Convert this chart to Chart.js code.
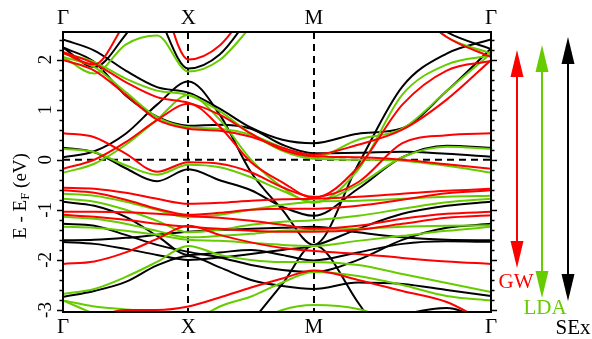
<!DOCTYPE html>
<html><head><meta charset="utf-8">
<script src="https://cdn.jsdelivr.net/npm/chart.js@4/dist/chart.umd.min.js"></script>
<style>html,body{margin:0;padding:0;background:#fff}canvas{display:block}</style>
</head><body>
<canvas id="c" width="592" height="339"></canvas>
<script>
// k-path: Γ-X (1), X-M (1), M-Γ (√2)
const R2 = Math.SQRT2;
const kPoints = [0,0.25,0.5,0.75,1,1.25,1.5,1.75,2,2+R2*0.25,2+R2*0.5,2+R2*0.75,2+R2];
const kTickPos = [0,1,2,2+R2];
const kTickLabels = ['Γ','X','M','Γ'];
const yTickValues = [-3,-2,-1,0,1,2];
const series = ['GW','LDA','SEx'];

// SEx (black) bands
const sex1 = [2.40,2.18,1.78,1.45,1.34,1.02,0.64,0.40,0.33,0.52,0.63,1.37,2.22];
const sex2 = [2.24,1.95,1.28,0.86,0.68,0.70,0.62,0.30,0.13,0.14,0.16,0.12,0.06];
const sex3 = [0.05,0.17,0.52,1.10,1.56,0.90,-0.25,-1.00,-1.70,-0.10,1.46,2.12,2.40];
const sex4 = [0.24,0.15,-0.17,-0.43,-0.19,-0.41,-0.61,-0.94,-1.12,-0.58,0.05,0.28,0.24];
const sex5 = [2.24,1.85,2.50,3.40,null,null,null,null,null,null,3.20,2.55,2.21];
const sex6 = [null,null,null,2.94,1.82,2.10,2.89,null,null,null,null,null,null];
const sex7 = [null,null,null,null,null,null,-3.25,-2.48,-1.70,-2.85,-4.2,null,null];
const sexL1 = [-0.84,-0.92,-1.14,-1.52,-1.90,-1.85,-1.80,-1.90,-2.01,-1.85,-1.68,-1.63,-1.64];
const sexL2 = [-1.28,-1.32,-1.50,-1.70,-1.84,-1.95,-2.10,-2.20,-2.24,-2.00,-1.60,-1.36,-1.28];
const sexL3 = [-1.61,-1.60,-1.56,-1.50,-1.44,-1.40,-1.38,-1.36,-1.34,-1.45,-1.55,-1.60,-1.61];
const sexL4 = [-1.64,-1.68,-1.78,-1.90,-2.00,-1.95,-1.88,-1.80,-1.72,-1.38,-1.08,-0.92,-0.84];
const sexL5 = [-2.74,-2.62,-2.44,-2.11,-1.92,-2.15,-2.40,-2.52,-2.58,-2.45,-2.48,-2.60,-2.72];
const sexB1 = [null,null,null,null,null,null,null,null,null,-3.4,-3.1,-2.96,-3.3];

// LDA (green) bands
const lda1 = [2.12,1.95,1.62,1.38,1.29,0.97,0.52,0.18,0.02,0.00,-0.02,-0.12,-0.26];
const lda2 = [2.05,1.85,1.35,0.85,0.65,0.62,0.50,0.24,0.05,0.40,0.62,1.37,2.12];
const lda3 = [-0.26,-0.08,0.30,0.80,1.29,0.80,0.00,-0.55,-0.86,-0.20,1.30,1.90,2.08];
const lda4 = [0.22,0.15,-0.11,-0.30,-0.10,-0.15,-0.35,-0.62,-0.84,-0.50,0.05,0.26,0.22];
const lda5 = [2.05,1.72,2.30,2.48,1.76,1.99,2.66,null,null,null,null,null,null];
const lda6 = [null,null,null,null,null,null,null,null,null,null,3.2,2.45,2.12];
const ldaL1 = [-0.68,-0.72,-0.84,-1.00,-1.15,-1.10,-1.00,-0.90,-0.84,-0.82,-0.78,-0.74,-0.72];
const ldaL2 = [-0.78,-0.84,-1.00,-1.22,-1.45,-1.40,-1.30,-1.24,-1.21,-1.12,-0.98,-0.85,-0.78];
const ldaL3 = [-1.14,-1.18,-1.28,-1.42,-1.55,-1.52,-1.48,-1.42,-1.40,-1.38,-1.34,-1.32,-1.31];
const ldaL4 = [-1.34,-1.36,-1.42,-1.50,-1.60,-1.62,-1.66,-1.70,-1.72,-1.62,-1.52,-1.42,-1.34];
const ldaL5 = [-2.68,-2.58,-2.34,-2.04,-1.72,-1.90,-2.00,-2.04,-2.04,-2.10,-2.28,-2.46,-2.64];
const ldaB1 = [-2.81,-2.93,-2.99,-3.05,-3.2,null,null,null,null,null,null,null,null];
const ldaB2 = [-2.81,-3.08,null,null,null,null,null,null,null,null,null,null,null];
const ldaB3 = [null,null,null,null,-3.3,-2.93,-2.73,-2.45,-2.24,-2.32,-2.50,-2.72,-2.81];
const ldaB4 = [null,null,null,null,null,null,-3.3,-3.0,-2.9,-2.98,-3.3,null,null];

// GW (red) bands
const gw1 = [2.15,1.92,1.55,1.25,1.14,0.90,0.52,0.20,0.07,0.05,0.00,-0.09,-0.18];
const gw2 = [1.99,1.78,1.30,0.80,0.62,0.58,0.46,0.24,0.10,0.30,0.60,1.20,1.99];
const gw3 = [-0.18,0.00,0.35,0.79,1.12,0.66,-0.05,-0.45,-0.76,-0.15,1.10,1.78,1.97];
const gw4 = [0.53,0.45,0.12,-0.24,-0.05,-0.08,-0.25,-0.55,-0.74,-0.45,0.33,0.49,0.53];
const gw5 = [2.13,1.90,2.75,null,null,null,null,null,null,null,null,null,null];
const gw6 = [null,null,null,3.6,2.00,2.28,3.08,null,null,null,null,null,null];
const gw7 = [null,null,null,null,null,null,null,null,null,null,3.2,2.45,2.05];
const gwL1 = [-0.56,-0.58,-0.66,-0.78,-0.88,-0.86,-0.82,-0.79,-0.78,-0.74,-0.68,-0.62,-0.58];
const gwL2 = [-0.61,-0.66,-0.80,-0.98,-1.10,-1.06,-1.00,-0.98,-0.98,-0.92,-0.80,-0.67,-0.61];
const gwL3 = [-1.04,-1.04,-1.05,-1.08,-1.12,-1.16,-1.22,-1.30,-1.38,-1.32,-1.18,-1.08,-1.04];
const gwL4 = [-1.10,-1.14,-1.20,-1.28,-1.34,-1.38,-1.42,-1.44,-1.44,-1.40,-1.28,-1.16,-1.11];
const gwL5 = [-2.08,-2.03,-1.85,-1.58,-1.32,-1.50,-1.65,-1.76,-1.82,-1.88,-1.96,-2.03,-2.08];
const gwB1 = [-3.4,-3.15,-3.00,-3.00,-2.93,-2.75,-2.55,-2.37,-2.21,-2.40,-2.62,-2.84,-3.3];

const gwBands = [gw1,gw2,gw3,gw4,gw5,gw6,gw7,gwL1,gwL2,gwL3,gwL4,gwL5,gwB1];
const ldaBands = [lda1,lda2,lda3,lda4,lda5,lda6,ldaL1,ldaL2,ldaL3,ldaL4,ldaL5,ldaB1,ldaB2,ldaB3,ldaB4];
const sexBands = [sex1,sex2,sex3,sex4,sex5,sex6,sex7,sexL1,sexL2,sexL3,sexL4,sexL5,sexB1];

const COLORS = {GW:'#ff0000', LDA:'#66cc00', SEx:'#000000'};
const SERIF = "'Liberation Serif','DejaVu Serif',serif";

function mk(band, color, name){
  return {label:name, data: kPoints.map((k,i)=>({x:k,y:band[i]})), borderColor:color,
    borderWidth:2, pointRadius:0, fill:false, spanGaps:false, clip:0,
    cubicInterpolationMode:'monotone'};
}
const datasets = [];
gwBands.forEach(b=>datasets.push(mk(b,COLORS.GW,'GW')));
ldaBands.forEach(b=>datasets.push(mk(b,COLORS.LDA,'LDA')));
sexBands.forEach(b=>datasets.push(mk(b,COLORS.SEx,'SEx')));

const deco = {
  id:'deco',
  beforeDatasetsDraw(chart){
    const {ctx, chartArea:a, scales:{x,y}} = chart;
    ctx.save();
    ctx.strokeStyle='#000'; ctx.lineWidth=2; ctx.setLineDash([7,5]);
    [1,2].forEach(v=>{const px=Math.round(x.getPixelForValue(v));
      ctx.beginPath(); ctx.moveTo(px,a.top); ctx.lineTo(px,a.bottom); ctx.stroke();});
    const py=y.getPixelForValue(0);
    ctx.beginPath(); ctx.moveTo(a.left,py); ctx.lineTo(a.right,py); ctx.stroke();
    ctx.restore();
  },
  afterDatasetsDraw(chart){
    const {ctx, chartArea:a, scales:{x,y}} = chart;
    ctx.save();
    ctx.strokeStyle='#000'; ctx.lineWidth=2; ctx.setLineDash([]);
    ctx.strokeRect(a.left,a.top,a.right-a.left,a.bottom-a.top);
    // y ticks (minor every 0.2)
    ctx.lineWidth=1.5;
    for(let i=-15;i<=12;i++){
      const v=i/5, py=Math.round(y.getPixelForValue(v))+0.5;
      const major = (i%5===0);
      const L = major?6:3.5;
      ctx.beginPath(); ctx.moveTo(a.left-L,py); ctx.lineTo(a.left,py);
      ctx.moveTo(a.right,py); ctx.lineTo(a.right+L,py); ctx.stroke();
    }
    // y tick labels rotated
    ctx.fillStyle='#000'; ctx.font='19px '+SERIF; ctx.textAlign='center'; ctx.textBaseline='middle';
    yTickValues.forEach(v=>{
      ctx.save(); ctx.translate(45,y.getPixelForValue(v)); ctx.rotate(-Math.PI/2);
      ctx.fillText(String(v),0,1); ctx.restore();
    });
    // k labels top and bottom
    ctx.font='21px '+SERIF;
    kTickPos.forEach((k,i)=>{
      const px=x.getPixelForValue(k);
      ctx.fillText(kTickLabels[i],px,18);
      ctx.fillText(kTickLabels[i],px,327);
    });
    // y title
    ctx.save(); ctx.translate(21,196); ctx.rotate(-Math.PI/2);
    ctx.textAlign='left'; ctx.textBaseline='middle';
    const f1='19px '+SERIF, f2='13px '+SERIF;
    ctx.font=f1; const p1='E - E'; const w1=ctx.measureText(p1).width;
    ctx.font=f2; const w2=ctx.measureText('F').width;
    ctx.font=f1; const p3=' (eV)'; const w3=ctx.measureText(p3).width;
    let sx=-(w1+w2+w3)/2;
    ctx.fillText(p1,sx,0); sx+=w1;
    ctx.font=f2; ctx.fillText('F',sx,5); sx+=w2;
    ctx.font=f1; ctx.fillText(p3,sx,0);
    ctx.restore();
    // legend arrows
    const arrows=[
      {name:'GW', x:517, t:50, b:268, tx:516, ty:282},
      {name:'LDA',x:542, t:45, b:298, tx:545, ty:308},
      {name:'SEx',x:568, t:37, b:301, tx:573, ty:328}];
    arrows.forEach(ar=>{
      const c=COLORS[ar.name]; ctx.strokeStyle=c; ctx.fillStyle=c; ctx.lineWidth=2;
      const H=27, W=6.5;
      ctx.beginPath(); ctx.moveTo(ar.x,ar.t+H-2); ctx.lineTo(ar.x,ar.b-H+2); ctx.stroke();
      ctx.beginPath(); ctx.moveTo(ar.x,ar.t); ctx.lineTo(ar.x-W,ar.t+H); ctx.lineTo(ar.x+W,ar.t+H); ctx.closePath(); ctx.fill();
      ctx.beginPath(); ctx.moveTo(ar.x,ar.b); ctx.lineTo(ar.x-W,ar.b-H); ctx.lineTo(ar.x+W,ar.b-H); ctx.closePath(); ctx.fill();
      ctx.font='21px '+SERIF; ctx.textAlign='center'; ctx.textBaseline='middle';
      ctx.fillText(ar.name,ar.tx,ar.ty);
    });
    ctx.restore();
  }
};

new Chart(document.getElementById('c'),{
  type:'line',
  data:{datasets},
  options:{
    responsive:false, animation:false, devicePixelRatio:1,
    layout:{padding:{left:63,right:101,top:32,bottom:27}},
    plugins:{legend:{display:false},tooltip:{enabled:false}},
    elements:{line:{capBezierPoints:false,tension:0}},
    scales:{
      x:{type:'linear',min:0,max:2+R2,display:false},
      y:{type:'linear',min:-3.04,max:2.55,display:false}
    }
  },
  plugins:[deco]
});
</script>
</body></html>
